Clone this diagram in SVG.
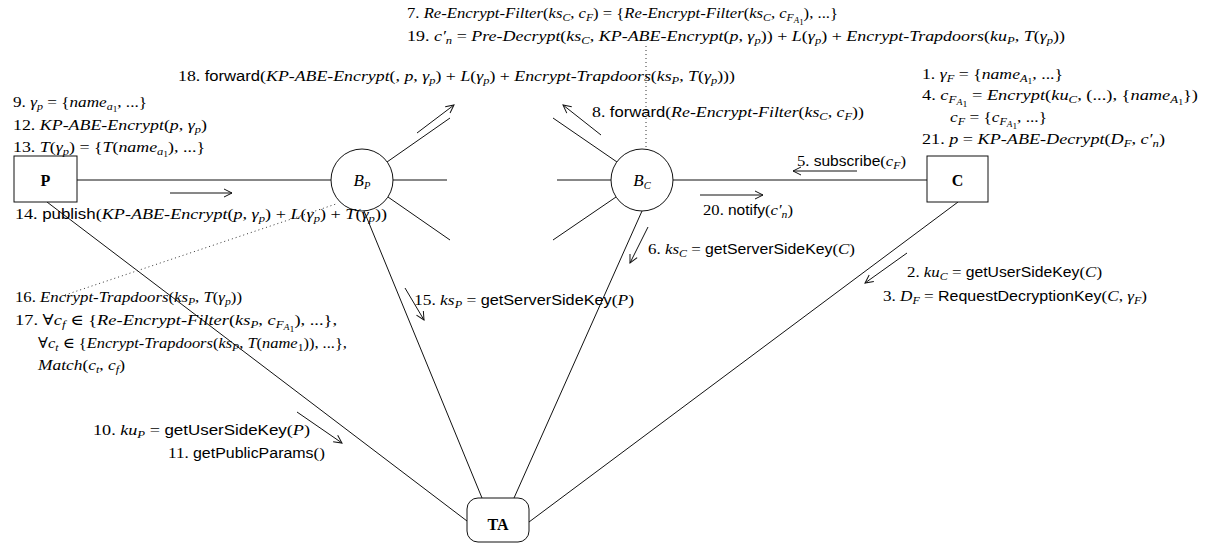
<svg xmlns="http://www.w3.org/2000/svg" width="1210" height="549" viewBox="0 0 1210 549">
<style>
text{font-family:"Liberation Serif","DejaVu Serif",serif;font-size:15px;fill:#000}
.i{font-style:italic}
.s{font-family:"Liberation Sans","DejaVu Sans",sans-serif;font-size:14px}
.b{font-size:10.5px;baseline-shift:-3px;font-style:italic}
.bn{font-size:10.5px;baseline-shift:-3px;font-style:normal}
.b2{font-size:8px;baseline-shift:-2px;font-style:italic}
.b1{font-size:8px;baseline-shift:-2px;font-style:normal}
.lbl{font-weight:bold;font-size:16px;text-anchor:middle}
.bl{font-size:17px;text-anchor:middle}
.ln{stroke:#111;stroke-width:1;fill:none}
.ar{stroke:#111;stroke-width:1;fill:none;marker-end:url(#ah)}
.dot{stroke:#333;stroke-width:1;fill:none;stroke-dasharray:1 3}
.nd{fill:#fff;stroke:#111;stroke-width:1}
</style>
<defs>
<marker id="ah" viewBox="-10 -6 12 12" refX="0" refY="0" markerWidth="12" markerHeight="12" orient="auto" markerUnits="userSpaceOnUse">
<path d="M-8,-4 L0,0 L-8,4" fill="none" stroke="#111" stroke-width="1"/>
</marker>
</defs>
<rect width="1210" height="549" fill="#fff"/>
<g id="connectors">
<line class="ln" x1="77" y1="180" x2="331" y2="180"/>
<line class="ln" x1="393" y1="180" x2="447" y2="180"/>
<line class="ln" x1="387" y1="162" x2="450" y2="118"/>
<line class="ln" x1="388" y1="197" x2="450" y2="240"/>
<line class="ln" x1="611" y1="180" x2="557" y2="180"/>
<line class="ln" x1="617" y1="162" x2="553" y2="118"/>
<line class="ln" x1="616" y1="197" x2="553" y2="240"/>
<line class="ln" x1="673" y1="180" x2="927" y2="180"/>
<line class="ln" x1="47" y1="202" x2="467" y2="521"/>
<line class="ln" x1="364" y1="211" x2="482" y2="498"/>
<line class="ln" x1="642" y1="211" x2="514" y2="498"/>
<line class="ln" x1="958" y1="202" x2="529" y2="522"/>
<line class="dot" x1="65" y1="295" x2="336" y2="204"/>
<line class="dot" x1="646" y1="46" x2="646" y2="149"/>
<line class="ar" x1="417" y1="133" x2="454" y2="105"/>
<line class="ar" x1="601" y1="135" x2="563" y2="105"/>
<line class="ar" x1="857" y1="171" x2="793" y2="171"/>
<line class="ar" x1="170" y1="193" x2="232" y2="193"/>
<line class="ar" x1="700" y1="195" x2="763" y2="195"/>
<line class="ar" x1="648" y1="227" x2="630" y2="263"/>
<line class="ar" x1="907" y1="253" x2="865" y2="283"/>
<line class="ar" x1="405" y1="288" x2="424" y2="320"/>
<line class="ar" x1="297" y1="412" x2="342" y2="443"/>
</g>
<g id="node-P"><rect class="nd" x="14" y="156" width="63" height="46"/><text class="lbl" x="45.5" y="186">P</text></g>
<g id="node-C"><rect class="nd" x="927" y="156" width="61" height="46"/><text class="lbl" x="957.5" y="186">C</text></g>
<g id="node-TA"><rect class="nd" x="467" y="498" width="62" height="44" rx="11"/><text class="lbl" x="498" y="530">TA</text></g>
<g id="node-BP"><circle class="nd" cx="362" cy="180" r="31"/><text class="bl" x="362" y="186"><tspan class="i">B</tspan><tspan class="b">P</tspan></text></g>
<g id="node-BC"><circle class="nd" cx="642" cy="180" r="31"/><text class="bl" x="642" y="186"><tspan class="i">B</tspan><tspan class="b">C</tspan></text></g>
<g id="labels">
<text x="407" y="18" textLength="431" lengthAdjust="spacingAndGlyphs">7. <tspan class="i">Re-Encrypt-Filter</tspan>(<tspan class="i">ks</tspan><tspan class="b">C</tspan>, <tspan class="i">c</tspan><tspan class="b">F</tspan>) = {<tspan class="i">Re-Encrypt-Filter</tspan>(<tspan class="i">ks</tspan><tspan class="b">C</tspan>, <tspan class="i">c</tspan><tspan class="b">F<tspan class="b2">A<tspan class="b1">1</tspan></tspan></tspan>), ...}</text>
<text x="407" y="41" textLength="658" lengthAdjust="spacingAndGlyphs">19. <tspan class="i">c′</tspan><tspan class="b">n</tspan> = <tspan class="i">Pre-Decrypt</tspan>(<tspan class="i">ks</tspan><tspan class="b">C</tspan>, <tspan class="i">KP-ABE-Encrypt</tspan>(<tspan class="i">p</tspan>, <tspan class="i">γ</tspan><tspan class="b">p</tspan>)) + <tspan class="i">L</tspan>(<tspan class="i">γ</tspan><tspan class="b">p</tspan>) + <tspan class="i">Encrypt-Trapdoors</tspan>(<tspan class="i">ku</tspan><tspan class="b">P</tspan>, <tspan class="i">T</tspan>(<tspan class="i">γ</tspan><tspan class="b">p</tspan>))</text>
<text x="178" y="81" textLength="557" lengthAdjust="spacingAndGlyphs">18. <tspan class="s">forward</tspan>(<tspan class="i">KP-ABE-Encrypt</tspan>(, <tspan class="i">p</tspan>, <tspan class="i">γ</tspan><tspan class="b">p</tspan>) + <tspan class="i">L</tspan>(<tspan class="i">γ</tspan><tspan class="b">p</tspan>) + <tspan class="i">Encrypt-Trapdoors</tspan>(<tspan class="i">ks</tspan><tspan class="b">P</tspan>, <tspan class="i">T</tspan>(<tspan class="i">γ</tspan><tspan class="b">p</tspan>)))</text>
<text x="592" y="117" textLength="272" lengthAdjust="spacingAndGlyphs">8. <tspan class="s">forward</tspan>(<tspan class="i">Re-Encrypt-Filter</tspan>(<tspan class="i">ks</tspan><tspan class="b">C</tspan>, <tspan class="i">c</tspan><tspan class="b">F</tspan>))</text>
<text x="922" y="79" textLength="141" lengthAdjust="spacingAndGlyphs">1. <tspan class="i">γ</tspan><tspan class="b">F</tspan> = {<tspan class="i">name</tspan><tspan class="b">A<tspan class="b1">1</tspan></tspan>, ...}</text>
<text x="922" y="100" textLength="276" lengthAdjust="spacingAndGlyphs">4. <tspan class="i">c</tspan><tspan class="b">F<tspan class="b2">A<tspan class="b1">1</tspan></tspan></tspan> = <tspan class="i">Encrypt</tspan>(<tspan class="i">ku</tspan><tspan class="b">C</tspan>, (...), {<tspan class="i">name</tspan><tspan class="b">A<tspan class="b1">1</tspan></tspan>})</text>
<text x="950" y="122" textLength="97" lengthAdjust="spacingAndGlyphs"><tspan class="i">c</tspan><tspan class="b">F</tspan> = {<tspan class="i">c</tspan><tspan class="b">F<tspan class="b2">A<tspan class="b1">1</tspan></tspan></tspan>, ...}</text>
<text x="922" y="144" textLength="243" lengthAdjust="spacingAndGlyphs">21. <tspan class="i">p</tspan> = <tspan class="i">KP-ABE-Decrypt</tspan>(<tspan class="i">D</tspan><tspan class="b">F</tspan>, <tspan class="i">c′</tspan><tspan class="b">n</tspan>)</text>
<text x="797" y="166" textLength="109" lengthAdjust="spacingAndGlyphs">5. <tspan class="s">subscribe</tspan>(<tspan class="i">c</tspan><tspan class="b">F</tspan>)</text>
<text x="13" y="107" textLength="134" lengthAdjust="spacingAndGlyphs">9. <tspan class="i">γ</tspan><tspan class="b">p</tspan> = {<tspan class="i">name</tspan><tspan class="b">a<tspan class="b1">1</tspan></tspan>, ...}</text>
<text x="13" y="130" textLength="194" lengthAdjust="spacingAndGlyphs">12. <tspan class="i">KP-ABE-Encrypt</tspan>(<tspan class="i">p</tspan>, <tspan class="i">γ</tspan><tspan class="b">p</tspan>)</text>
<text x="13" y="152" textLength="192" lengthAdjust="spacingAndGlyphs">13. <tspan class="i">T</tspan>(<tspan class="i">γ</tspan><tspan class="b">p</tspan>) = {<tspan class="i">T</tspan>(<tspan class="i">name</tspan><tspan class="b">a<tspan class="b1">1</tspan></tspan>), ...}</text>
<text x="15" y="219" textLength="372" lengthAdjust="spacingAndGlyphs">14. <tspan class="s">publish</tspan>(<tspan class="i">KP-ABE-Encrypt</tspan>(<tspan class="i">p</tspan>, <tspan class="i">γ</tspan><tspan class="b">p</tspan>) + <tspan class="i">L</tspan>(<tspan class="i">γ</tspan><tspan class="b">p</tspan>) + <tspan class="i">T</tspan>(<tspan class="i">γ</tspan><tspan class="b">p</tspan>))</text>
<text x="703" y="215" textLength="90" lengthAdjust="spacingAndGlyphs">20. <tspan class="s">notify</tspan>(<tspan class="i">c′</tspan><tspan class="b">n</tspan>)</text>
<text x="648" y="254" textLength="207" lengthAdjust="spacingAndGlyphs">6. <tspan class="i">ks</tspan><tspan class="b">C</tspan> = <tspan class="s">getServerSideKey</tspan>(<tspan class="i">C</tspan>)</text>
<text x="907" y="277" textLength="195" lengthAdjust="spacingAndGlyphs">2. <tspan class="i">ku</tspan><tspan class="b">C</tspan> = <tspan class="s">getUserSideKey</tspan>(<tspan class="i">C</tspan>)</text>
<text x="883" y="301" textLength="264" lengthAdjust="spacingAndGlyphs">3. <tspan class="i">D</tspan><tspan class="b">F</tspan> = <tspan class="s">RequestDecryptionKey</tspan>(<tspan class="i">C</tspan>, <tspan class="i">γ</tspan><tspan class="b">F</tspan>)</text>
<text x="15" y="302" textLength="227" lengthAdjust="spacingAndGlyphs">16. <tspan class="i">Encrypt-Trapdoors</tspan>(<tspan class="i">ks</tspan><tspan class="b">P</tspan>, <tspan class="i">T</tspan>(<tspan class="i">γ</tspan><tspan class="b">p</tspan>))</text>
<text x="15" y="325" textLength="322" lengthAdjust="spacingAndGlyphs">17. ∀<tspan class="i">c</tspan><tspan class="b">f</tspan> ∈ {<tspan class="i">Re-Encrypt-Filter</tspan>(<tspan class="i">ks</tspan><tspan class="b">P</tspan>, <tspan class="i">c</tspan><tspan class="b">F<tspan class="b2">A<tspan class="b1">1</tspan></tspan></tspan>), ...},</text>
<text x="38" y="348" textLength="309" lengthAdjust="spacingAndGlyphs">∀<tspan class="i">c</tspan><tspan class="b">t</tspan> ∈ {<tspan class="i">Encrypt-Trapdoors</tspan>(<tspan class="i">ks</tspan><tspan class="b">P</tspan>, <tspan class="i">T</tspan>(<tspan class="i">name</tspan><tspan class="bn">1</tspan>)), ...},</text>
<text x="38" y="370" textLength="87" lengthAdjust="spacingAndGlyphs"><tspan class="i">Match</tspan>(<tspan class="i">c</tspan><tspan class="b">t</tspan>, <tspan class="i">c</tspan><tspan class="b">f</tspan>)</text>
<text x="414" y="305" textLength="220" lengthAdjust="spacingAndGlyphs">15. <tspan class="i">ks</tspan><tspan class="b">P</tspan> = <tspan class="s">getServerSideKey</tspan>(<tspan class="i">P</tspan>)</text>
<text x="93" y="435" textLength="217" lengthAdjust="spacingAndGlyphs">10. <tspan class="i">ku</tspan><tspan class="b">P</tspan> = <tspan class="s">getUserSideKey</tspan>(<tspan class="i">P</tspan>)</text>
<text x="168" y="458" textLength="157" lengthAdjust="spacingAndGlyphs">11. <tspan class="s">getPublicParams</tspan>()</text>
</g>
</svg>
